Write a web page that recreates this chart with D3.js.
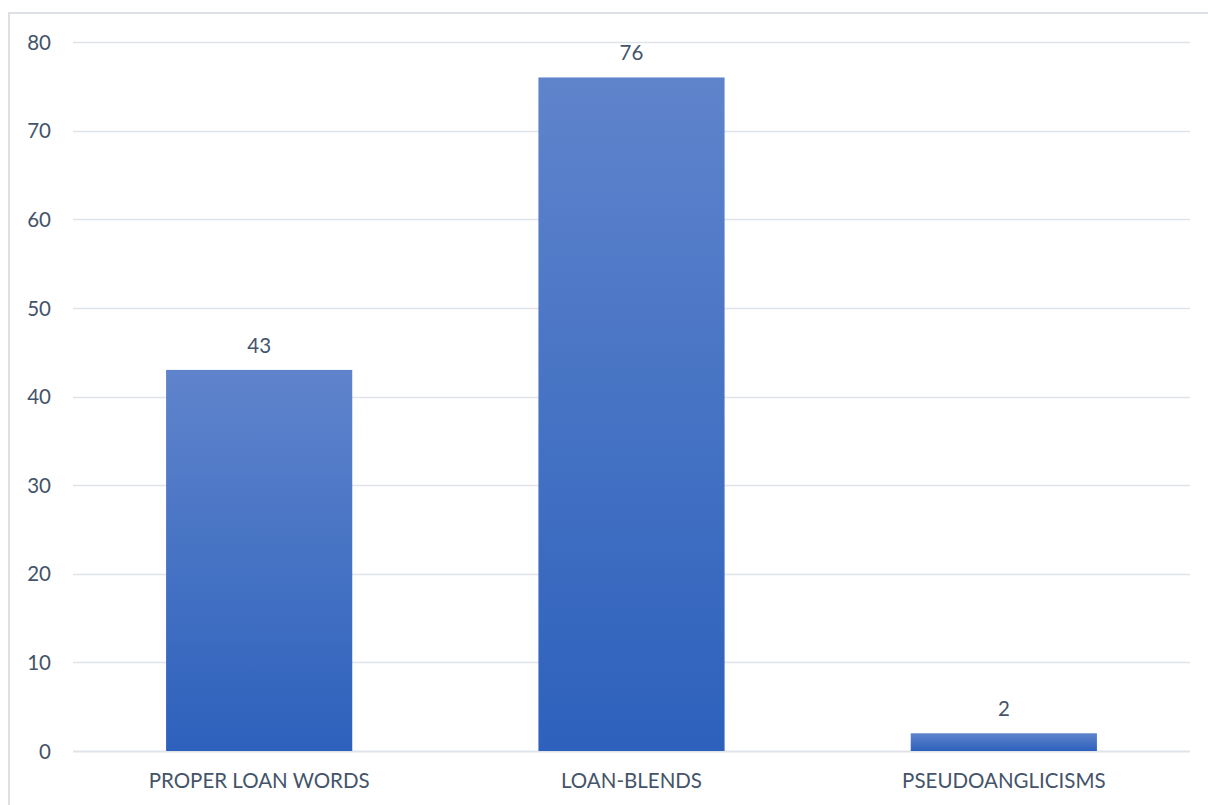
<!DOCTYPE html>
<html><head><meta charset="utf-8">
<script src="https://cdn.jsdelivr.net/npm/d3@7"></script>
<style>
body{margin:0;background:#fff;}
text{font-family:Lato,"Open Sans",sans-serif;fill:#44546a;}
</style></head>
<body>
<svg id="c" width="1208" height="805"></svg>
<script>
const categories = ["PROPER LOAN WORDS", "LOAN-BLENDS", "PSEUDOANGLICISMS"];
const values = [43, 76, 2];
const yTicks = [0, 10, 20, 30, 40, 50, 60, 70, 80];

const svg = d3.select("#c");
const W = 1208, H = 805;
const mLeft = 73, mRight = 1190, mTop = 42, mBottom = 751;
const FS = "20.5px";
const FF = "Lato, 'Open Sans', sans-serif";

// chart border
svg.append("rect").attr("x", 9).attr("y", 13).attr("width", W + 20).attr("height", H + 20)
  .attr("fill", "#fff").attr("stroke", "#dde1e6").attr("stroke-width", 2);

const x = d3.scaleBand().domain(categories).range([mLeft, mRight]).paddingInner(0.5).paddingOuter(0.25);
const y = d3.scaleLinear().domain([0, 80]).range([mBottom, mTop]);

const defs = svg.append("defs");
const grad = defs.append("linearGradient").attr("id", "g").attr("x1", 0).attr("y1", 0).attr("x2", 0).attr("y2", 1);
grad.append("stop").attr("offset", "0%").attr("stop-color", "#5f84cc");
grad.append("stop").attr("offset", "100%").attr("stop-color", "#2d61bc");

// grid
svg.append("g").selectAll("line").data(yTicks).join("line")
  .attr("x1", mLeft).attr("x2", mRight)
  .attr("y1", d => Math.round(y(d)) + 0.5).attr("y2", d => Math.round(y(d)) + 0.5)
  .attr("stroke", "#dfe3ea").attr("stroke-width", d => d === 0 ? 2 : 1.5);

// y axis labels
const yAxis = d3.axisLeft(y).tickValues(yTicks).tickSize(0).tickPadding(0);
const ya = svg.append("g").attr("transform", `translate(${mLeft - 22},0)`).call(yAxis);
ya.select(".domain").remove();
ya.selectAll("text").style("font-size", FS).attr("dy", "0.35em").style("fill", "#44546a").style("font-family", FF);

// bars
svg.append("g").selectAll("rect").data(values).join("rect")
  .attr("x", (d, i) => x(categories[i]))
  .attr("width", x.bandwidth())
  .attr("y", d => y(d))
  .attr("height", d => y(0) - y(d))
  .attr("fill", "url(#g)");

// value labels
svg.append("g").selectAll("text").data(values).join("text")
  .attr("x", (d, i) => x(categories[i]) + x.bandwidth() / 2)
  .attr("y", d => y(d) - 17)
  .attr("text-anchor", "middle")
  .style("font-size", FS).style("font-family", FF)
  .text(d => d);

// x axis labels
const xAxis = d3.axisBottom(x).tickSize(0).tickPadding(0);
const xa = svg.append("g").attr("transform", `translate(0,${mBottom + 21})`).call(xAxis);
xa.select(".domain").remove();
xa.selectAll("text").style("font-size", FS).attr("dy", "0.8em").style("fill", "#44546a").style("font-family", FF);
</script>
</body></html>
